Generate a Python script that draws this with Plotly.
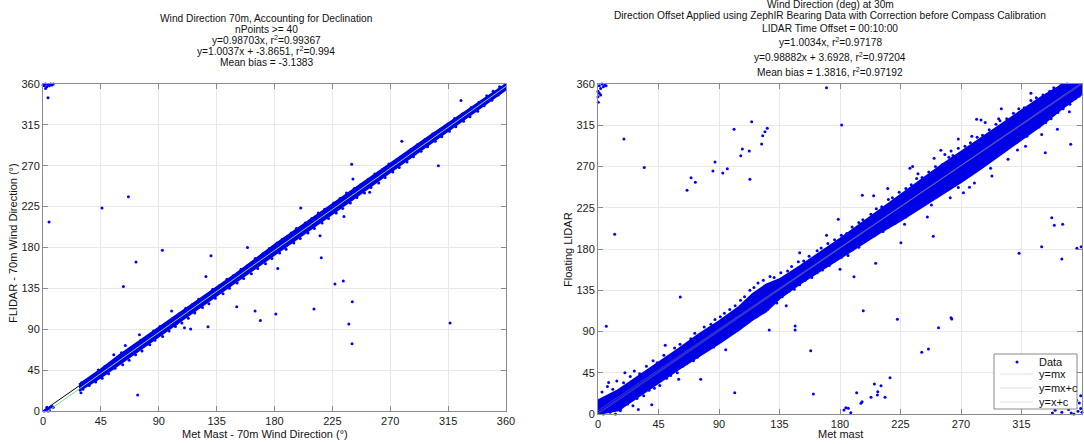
import plotly.graph_objects as go

W, H = 1084, 444


def fx(p):
    return p / W


def fy(p):
    return 1 - p / H


FONT = "Liberation Sans, Arial, sans-serif"
BLUE = "rgb(0,0,255)"

# ---------------- Left chart data ----------------
left_title = [
    "Wind Direction 70m, Accounting for Declination",
    "nPoints >= 40",
    "y=0.98703x, r<sup>2</sup>=0.99367",
    "y=1.0037x + -3.8651, r<sup>2</sup>=0.994",
    "Mean bias = -3.1383",
]
left_xlabel = "Met Mast - 70m Wind Direction (°)"
left_ylabel = "FLIDAR - 70m Wind Direction (°)"

left_band_x = [28, 45, 60, 90, 120, 150, 180, 210, 240, 270, 300, 330, 360]
left_band_lo = [22, 37, 52, 82, 112, 142, 172, 202, 232, 263, 294, 324, 354]
left_band_hi = [29, 46, 62, 92, 121, 151, 183, 213, 243, 272, 302, 331, 360]

# origin / wrap clusters
left_clu_x = [1, 2, 3, 4, 5, 6, 7, 8, 3, 5, 0, 1, 2, 3, 4, 5, 6, 7, 8, 2]
left_clu_y = [0, 1, 2, 0, 3, 4, 5, 4, 4, 1, 359, 358, 360, 357, 359, 358, 360, 359, 360, 355]
# points along the upper edge of the band
left_up_x = [30, 34, 39, 43, 48, 53, 57, 61, 66, 71, 76, 81, 86, 91, 95, 101, 106, 111, 116,
             121, 127, 132, 137, 143, 148, 154, 159, 165, 171, 176, 182, 186, 193, 197, 204,
             209, 214, 219, 226, 231, 236, 242, 247, 253, 258, 264, 269, 275, 281, 286, 291,
             297, 303, 309, 315, 320, 326, 333, 339, 345, 350, 355, 55, 64, 75, 100]
left_up_y = [31, 33, 38, 45, 49, 52, 58, 64, 67, 71, 78, 81, 88, 93, 95, 102, 107, 113, 117,
             123, 127, 134, 138, 145, 149, 156, 160, 168, 173, 179, 185, 189, 196, 201, 207,
             212, 218, 222, 229, 234, 240, 245, 249, 255, 261, 266, 272, 276, 282, 288, 293,
             299, 305, 310, 316, 322, 327, 334, 340, 347, 352, 357, 62, 72, 84, 110]
# points along the lower edge of the band
left_lo_x = [31, 36, 41, 46, 51, 56, 62, 67, 72, 77, 83, 87, 93, 98, 103, 108, 113, 118, 124,
             129, 134, 140, 145, 151, 156, 162, 167, 173, 178, 184, 189, 195, 200, 206, 211,
             217, 222, 228, 233, 239, 244, 250, 255, 261, 266, 272, 277, 283, 288, 294, 299,
             305, 310, 316, 321, 327, 332, 338, 343, 349, 354, 104]
left_lo_y = [24, 28, 32, 36, 41, 47, 51, 56, 62, 66, 73, 78, 82, 88, 93, 97, 102, 108, 114,
             118, 124, 129, 135, 141, 146, 151, 157, 162, 168, 174, 178, 185, 190, 196, 201,
             207, 212, 218, 223, 229, 235, 240, 246, 251, 257, 263, 268, 274, 280, 286, 291,
             297, 302, 308, 313, 319, 324, 330, 336, 342, 348, 96]
# scattered outliers
left_out_x = [3.9, 4.7, 45.9, 66.4, 92.8, 72.3, 62.5, 73.6, 29.5,
              130.6, 150.6, 164.9, 169, 181, 128.3, 210.7, 227, 233.5, 240.5, 237.8,
              240.3, 215.4, 216.4, 182.5, 114.8, 110, 316.5, 240, 325, 307.4, 279,
              200.4, 126.7, 159, 254, 241, 234]
left_out_y = [345, 208, 223.6, 236, 177, 164, 137, 17.6, 20,
              171, 114.9, 110, 99.5, 106.8, 92.8, 112.3, 139.9, 143, 120.4, 95.8,
              74, 193, 168.8, 157, 90.3, 91.7, 97, 271.7, 341.7, 270, 297,
              223.6, 148, 180, 240.9, 255.5, 214]
left_fit_m = 0.98703
left_fit2_m, left_fit2_c = 1.0037, -3.8651

# ---------------- Right chart data ----------------
right_title = [
    "Wind Direction (deg) at 30m",
    "Direction Offset Applied using ZephIR Bearing Data with Correction before Compass Calibration",
    "LIDAR Time Offset = 00:10:00",
    "y=1.0034x, r<sup>2</sup>=0.97178",
    "y=0.98882x + 3.6928, r<sup>2</sup>=0.97204",
    "Mean bias = 1.3816, r<sup>2</sup>=0.97192",
]
right_xlabel = "Met mast"
right_ylabel = "Floating LIDAR"

right_band_x = [0, 15, 30, 45, 60, 75, 90, 105, 115, 125, 135, 150, 165, 180,
                195, 210, 225, 240, 255, 270, 285, 300, 315, 330, 345, 360]
right_band_lo = [0, 4, 19, 34, 49, 63, 77, 92, 103, 112, 126, 142, 156, 170,
                 184, 198, 211, 225, 239, 253, 268, 283, 299, 315, 333, 349]
right_band_hi = [15, 26, 41, 56, 71, 87, 101, 117, 131, 141, 147, 161, 176, 191,
                 207, 223, 240, 255, 271, 286, 301, 316, 331, 346, 359, 360]

right_clu_x = [0, 1, 2, 3, 4, 5, 0, 1, 6, 2, 0.2,
               345, 350, 352, 355, 357, 358, 359, 360, 348, 354, 340, 356, 359, 338]
right_clu_y = [352, 358, 355, 360, 357, 359, 346, 350, 358, 348, 340,
               2, 5, 1, 8, 3, 12, 6, 2, 10, 0, 4, 15, 20, 1]
right_up_x = [3, 7, 11, 14, 19, 24, 27, 31, 36, 41, 44, 49, 53, 57, 61, 64, 69, 72, 76, 79,
              84, 87, 91, 94, 98, 102, 106, 109, 113, 116, 119, 123, 128, 131, 136, 141, 144,
              149, 153, 157, 163, 166, 171, 176, 181, 185, 189, 194, 197, 203, 207, 211, 216,
              219, 224, 229, 233, 237, 241, 246, 251, 256, 261, 264, 268, 273, 277, 282, 286,
              291, 296, 299, 304, 309, 313, 317, 322, 326, 331, 336, 339, 344, 349, 353]
right_up_y = [24, 30, 27, 36, 34, 41, 47, 44, 52, 58, 56, 64, 62, 72, 76, 73, 82, 88, 86, 95,
              98, 103, 106, 110, 114, 118, 124, 128, 135, 138, 143, 146, 150, 149, 154, 156, 161,
              166, 167, 172, 178, 181, 186, 190, 195, 197, 204, 209, 212, 218, 224, 226, 234,
              236, 242, 246, 250, 257, 258, 264, 270, 272, 280, 282, 290, 292, 296, 302, 304,
              310, 316, 320, 322, 328, 333, 334, 342, 345, 348, 352, 356, 358, 360, 359]
right_lo_x = [4, 9, 13, 17, 22, 26, 29, 34, 38, 42, 46, 51, 54, 59, 63, 66, 71, 74, 78, 82,
              86, 89, 93, 97, 101, 104, 108, 111, 115, 118, 121, 126, 130, 133, 137, 142, 146,
              150, 154, 159, 163, 167, 172, 176, 181, 186, 189, 194, 198, 203, 206, 212, 216,
              221, 225, 229, 234, 238, 243, 248, 252, 257, 261, 266, 270, 275, 279, 284, 288,
              293, 297, 302, 306, 311, 315, 319, 324, 328, 333, 337, 342, 346, 351, 355, 358]
right_lo_y = [0, 2, 0, 6, 11, 9, 17, 20, 26, 28, 31, 39, 42, 45, 52, 55, 58, 62, 68, 71,
              73, 78, 84, 86, 90, 92, 99, 100, 104, 106, 110, 114, 120, 121, 128, 134, 136,
              141, 146, 149, 154, 157, 162, 167, 171, 173, 179, 182, 188, 193, 195, 199, 204,
              208, 213, 215, 222, 226, 229, 235, 237, 244, 248, 251, 257, 262, 265, 270, 274,
              279, 283, 287, 291, 296, 301, 303, 310, 313, 318, 322, 329, 333, 338, 344, 347]
right_out_x = [19.3, 34.4, 66.2, 69.2, 72.4, 85.5, 87, 92.8, 96.2, 101.2, 12.4, 61.2,
               6.2, 7.9, 76.4, 101.7, 16.6, 114.3, 107.4, 106.2, 112.5, 113, 121.7,
               122.5, 124.2, 125.9, 170, 181.2, 196.6, 234, 215.5, 178.7, 225.3, 249.4,
               206.5, 190.4, 337.5, 339.4, 345.6, 330, 313.2, 345, 356.2, 359.4, 351.6,
               341.7, 332.7, 350.6, 281.6, 284.9, 255, 262.6, 276.3, 271.8, 293,
               127.4, 146.6, 146.6, 158.2, 160.2, 197.3, 222.7, 253.3, 240.8, 245.8,
               262.6, 263.1, 217.2, 205.6, 210.5, 208.1, 207.8, 213.5, 203.1, 196.4,
               195.6, 192.4, 186.2, 184.4, 183, 188,
               205, 232, 250, 268, 288, 300, 245, 262, 280, 305, 318, 330,
               150, 170, 180, 140, 95, 60, 30, 50, 20, 40,
               238, 258, 278, 298, 322, 228, 248, 268, 292, 312]
right_out_y = [300, 269, 244, 257.8, 252.7, 265, 275, 263, 267.6, 310.6, 196, 127.6,
               95.7, 34.5, 37.8, 23.3, 3.6, 318.9, 289, 281.8, 287, 256, 294.5,
               303.6, 308, 311.6, 356, 315.3, 238.6, 270, 246, 212.4, 186.9, 193.8,
               164.4, 149.8, 214, 206, 207, 182.5, 175.3, 169, 180.8, 182.5, 294.2,
               310.6, 285, 329.8, 321.5, 320.7, 287.6, 287, 247.3, 241.4, 259.6,
               91.6, 96, 91.6, 69, 21.8, 112.7, 103.3, 94.2, 67.3, 70.9,
               105, 103.6, 39.6, 32.7, 30.9, 24.3, 20.7, 18.2, 18.2, 13.4,
               11.6, 23.3, 6.2, 6.9, 4.4, 1.4,
               238, 268, 279, 300, 318, 333, 215, 236, 252, 278, 292, 305,
               176, 195, 158, 118, 70, 38, 5, 75, 45, 10,
               262, 283, 303, 322, 350, 207, 228, 247, 268, 288]
right_fit_m = 1.0034
right_fit2_m, right_fit2_c = 0.98882, 3.6928
right_bias = 1.3816
legend_labels = ["Data", "y=mx", "y=mx+c", "y=x+c"]

ticks = [0, 45, 90, 135, 180, 225, 270, 315, 360]
fit_x = [0, 360]

fig = go.Figure()


def add_band(bx, lo, hi, xa, ya):
    fig.add_trace(go.Scatter(
        x=bx + bx[::-1], y=hi + lo[::-1], fill="toself", mode="lines",
        line=dict(color="rgb(0,0,228)", width=2), fillcolor="rgb(0,0,228)",
        xaxis=xa, yaxis=ya, hoverinfo="skip", showlegend=False))


def add_pts(px, py, xa, ya, size=3):
    fig.add_trace(go.Scatter(
        x=px, y=py, mode="markers", cliponaxis=False,
        marker=dict(color=BLUE, size=size, line=dict(width=0)),
        xaxis=xa, yaxis=ya, showlegend=False))


def add_line(xs, ys, color, xa, ya, width=1):
    fig.add_trace(go.Scatter(
        x=xs, y=ys, mode="lines", line=dict(color=color, width=width),
        xaxis=xa, yaxis=ya, hoverinfo="skip", showlegend=False))


# Left chart
add_line(fit_x, [left_fit_m * v for v in fit_x], "black", "x", "y")
add_band(left_band_x, left_band_lo, left_band_hi, "x", "y")
add_pts(left_clu_x, left_clu_y, "x", "y")
add_pts(left_up_x, left_up_y, "x", "y")
add_pts(left_lo_x, left_lo_y, "x", "y")
add_pts(left_out_x, left_out_y, "x", "y")
add_line(fit_x, [left_fit2_m * v + left_fit2_c for v in fit_x], "rgb(120,215,150)", "x", "y")

# Right chart
add_band(right_band_x, right_band_lo, right_band_hi, "x2", "y2")
add_pts(right_clu_x, right_clu_y, "x2", "y2")
add_pts(right_up_x, right_up_y, "x2", "y2")
add_pts(right_lo_x, right_lo_y, "x2", "y2")
add_pts(right_out_x, right_out_y, "x2", "y2")
add_line(fit_x, [right_fit_m * v for v in fit_x], "rgba(120,200,120,0.3)", "x2", "y2")
add_line(fit_x, [right_fit2_m * v + right_fit2_c for v in fit_x], "rgba(230,150,150,0.3)", "x2", "y2")
add_line(fit_x, [v + right_bias for v in fit_x], "rgba(180,180,180,0.3)", "x2", "y2")

axis_common = dict(
    range=[0, 360], tickvals=ticks, ticktext=[str(t) for t in ticks],
    showgrid=True, gridcolor="#e8e8e8", gridwidth=1,
    showline=True, linecolor="#8a8a8a", linewidth=1, mirror="allticks",
    ticks="inside", ticklen=5, tickcolor="#8a8a8a", zeroline=False,
    tickfont=dict(family=FONT, size=11, color="#1a1a1a"), automargin=False,
    fixedrange=True,
)

fig.update_layout(
    width=W, height=H, margin=dict(l=0, r=0, t=0, b=0),
    paper_bgcolor="white", plot_bgcolor="white", showlegend=False,
    xaxis=dict(domain=[fx(43), fx(506)], anchor="y", **axis_common),
    yaxis=dict(domain=[fy(411), fy(84)], anchor="x", **axis_common),
    xaxis2=dict(domain=[fx(598), fx(1082)], anchor="y2", **axis_common),
    yaxis2=dict(domain=[fy(414), fy(84)], anchor="x2", **axis_common),
)

ann = []
TFONT = dict(family=FONT, size=10.2, color="#111")
for i, t in enumerate(left_title):
    ann.append(dict(text=t, x=fx(266), y=fy([18, 29, 40, 51, 62][i]),
                    xref="paper", yref="paper", showarrow=False,
                    xanchor="center", yanchor="middle", font=TFONT))
for i, t in enumerate(right_title):
    ann.append(dict(text=t, x=fx(830), y=fy([5, 16, 28, 42, 57, 72][i]),
                    xref="paper", yref="paper", showarrow=False,
                    xanchor="center", yanchor="middle", font=TFONT))
LFONT = dict(family=FONT, size=11, color="#111")
ann.append(dict(text=left_xlabel, x=fx(265), y=fy(434), xref="paper", yref="paper",
                showarrow=False, xanchor="center", yanchor="middle", font=LFONT))
ann.append(dict(text=left_ylabel, x=fx(13), y=fy(243), xref="paper", yref="paper",
                showarrow=False, xanchor="center", yanchor="middle", textangle=-90, font=LFONT))
ann.append(dict(text=right_xlabel, x=fx(840), y=fy(434), xref="paper", yref="paper",
                showarrow=False, xanchor="center", yanchor="middle", font=LFONT))
ann.append(dict(text=right_ylabel, x=fx(568), y=fy(250), xref="paper", yref="paper",
                showarrow=False, xanchor="center", yanchor="middle", textangle=-90, font=LFONT))

# Manual legend (right chart)
shapes = [dict(type="rect", xref="paper", yref="paper",
               x0=fx(994), x1=fx(1077), y0=fy(409), y1=fy(354),
               line=dict(color="#8a8a8a", width=1), fillcolor="white", layer="above")]
leg_y = [362, 374, 388, 402]
leg_colors = [None, "rgb(210,238,210)", "rgb(246,212,212)", "rgb(225,225,225)"]
for i, lab in enumerate(legend_labels):
    if i == 0:
        shapes.append(dict(type="circle", xref="paper", yref="paper",
                           x0=fx(1015.5), x1=fx(1018.5), y0=fy(leg_y[i] + 1.5), y1=fy(leg_y[i] - 1.5),
                           line=dict(width=0), fillcolor=BLUE, layer="above"))
    else:
        shapes.append(dict(type="line", xref="paper", yref="paper",
                           x0=fx(1000), x1=fx(1033), y0=fy(leg_y[i]), y1=fy(leg_y[i]),
                           line=dict(color=leg_colors[i], width=1), layer="above"))
    ann.append(dict(text=lab, x=fx(1037), y=fy(leg_y[i]), xref="paper", yref="paper",
                    showarrow=False, xanchor="left", yanchor="middle", font=LFONT))

fig.update_layout(annotations=ann, shapes=shapes)
fig.write_html("out.html")
